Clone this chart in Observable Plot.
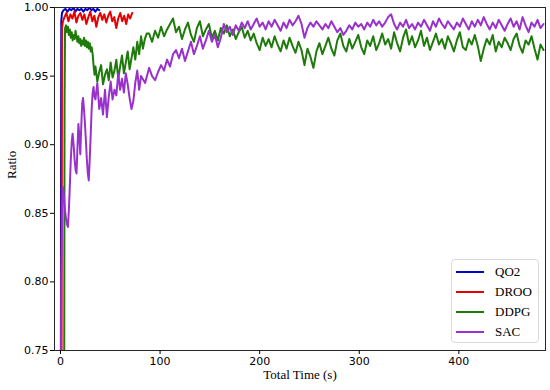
<!DOCTYPE html>
<html><head><meta charset="utf-8">
<script src="https://cdn.jsdelivr.net/npm/d3@7"></script>
<script src="https://cdn.jsdelivr.net/npm/@observablehq/plot@0.6"></script>
<style>
body{margin:0;background:#fff;}
#wrap{position:relative;width:550px;height:390px;}
#legend{position:absolute;left:451px;top:259px;width:88px;height:84px;border:1px solid #d9d9d9;border-radius:4px;background:rgba(255,255,255,0.85);box-sizing:border-box;font-family:"Liberation Serif",serif;font-size:13px;color:#000;}
.item{position:absolute;left:4px;height:16px;display:flex;align-items:center;}
.sw{width:28px;height:2px;margin-right:11px;}
</style></head><body><div id="wrap"></div>
<script>
const seriesNames = ["QO2", "DROO", "DDPG", "SAC"];
const seriesColors = ["#0000cd", "#e60000", "#1e7a0a", "#9932cc"];
const xTicks = [0, 100, 200, 300, 400];
const yTicks = [0.75, 0.80, 0.85, 0.90, 0.95, 1.00];

const qo2Time = [0.3, 0.8, 1.5, 3, 5, 7, 9, 11, 13, 15, 17, 19, 21, 23, 25, 27, 29, 31, 33, 35, 37, 39];
const qo2Ratio = [0.70, 0.990, 0.996, 0.998, 0.999, 0.997, 0.999, 0.998, 1.0, 0.997, 0.999, 0.998, 0.999, 0.997, 0.999, 0.998, 1.0, 0.998, 0.999, 0.997, 0.999, 0.998];

const drooTime = [1.0, 1.5, 2.5, 4, 6, 8, 10, 12, 14, 16, 18, 20, 22, 24, 26, 28, 30, 32, 34, 36, 38, 40, 42, 44, 46, 48, 50, 52, 54, 56, 58, 60, 62, 64, 66, 68, 70, 72];
const drooRatio = [0.70, 0.985, 0.990, 0.993, 0.996, 0.990, 0.995, 0.992, 0.997, 0.989, 0.994, 0.996, 0.991, 0.995, 0.988, 0.993, 0.997, 0.990, 0.994, 0.986, 0.993, 0.996, 0.991, 0.995, 0.989, 0.994, 0.997, 0.990, 0.993, 0.985, 0.992, 0.996, 0.990, 0.994, 0.988, 0.995, 0.992, 0.996];

const ddpgEarlyTime = [3.7, 4.1, 4.6, 5.6, 6.5, 7.5, 8.4, 9.4, 10.3, 11.3, 12.2, 13.2, 14.2, 15.1, 16.1, 17.0, 18.0, 18.9, 19.9, 20.8, 21.8, 22.7, 23.7, 24.6, 25.6, 26.5, 27.5, 28.4, 29.4, 30.4, 31.3, 32.3, 33.2, 34.2, 35.1, 37.0, 38.9, 40.8, 42.7, 44.7, 46.6, 48.5, 50.4, 52.3, 54.2, 56.1, 58.0, 59.9, 61.8, 63.7, 65.6, 67.5, 69.4, 71.3, 73.2, 75.1, 77.1, 79.0, 80.9, 82.8, 84.7, 86.6];
const ddpgEarlyRatio = [0.70, 0.93, 0.985, 0.987, 0.982, 0.986, 0.980, 0.984, 0.978, 0.982, 0.976, 0.980, 0.977, 0.983, 0.979, 0.975, 0.979, 0.974, 0.977, 0.972, 0.976, 0.973, 0.978, 0.972, 0.976, 0.971, 0.975, 0.970, 0.974, 0.968, 0.971, 0.966, 0.958, 0.951, 0.957, 0.946, 0.953, 0.958, 0.944, 0.951, 0.955, 0.947, 0.960, 0.949, 0.954, 0.962, 0.948, 0.957, 0.965, 0.952, 0.960, 0.968, 0.955, 0.963, 0.971, 0.962, 0.975, 0.966, 0.979, 0.970, 0.977, 0.981];

const lateTime = [89, 92, 95, 98, 101, 104, 107, 110, 113, 116, 119, 122, 125, 128, 131, 134, 137, 140, 143, 146, 149, 152, 155, 158, 161, 164, 167, 170, 173, 176, 179, 182, 185, 188, 191, 194, 197, 200, 203, 206, 209, 212, 215, 218, 221, 224, 227, 230, 233, 236, 239, 242, 245, 248, 251, 254, 257, 260, 263, 266, 269, 272, 275, 278, 281, 284, 287, 290, 293, 296, 299, 302, 305, 308, 311, 314, 317, 320, 323, 326, 329, 332, 335, 338, 341, 344, 347, 350, 353, 356, 359, 362, 365, 368, 371, 374, 377, 380, 383, 386, 389, 392, 395, 398, 401, 404, 407, 410, 413, 416, 419, 422, 425, 428, 431, 434, 437, 440, 443, 446, 449, 452, 455, 458, 461, 464, 467, 470, 473, 476, 479, 482, 485];

const ddpgLateRatio = [
  0.981, 0.975, 0.983, 0.978, 0.986, 0.979, 0.984, 0.988, 0.992, 0.982,
  0.986, 0.977, 0.984, 0.989, 0.980, 0.975, 0.985, 0.990, 0.979, 0.984,
  0.988, 0.978, 0.983, 0.976, 0.985, 0.981, 0.987, 0.979, 0.984, 0.977,
  0.982, 0.986, 0.978, 0.983, 0.976, 0.981, 0.974, 0.969, 0.978, 0.972,
  0.977, 0.971, 0.979, 0.973, 0.968, 0.976, 0.970, 0.978, 0.972, 0.967,
  0.975, 0.969, 0.958, 0.970, 0.964, 0.956, 0.968, 0.974, 0.966, 0.972,
  0.978, 0.970, 0.965, 0.976, 0.981, 0.972, 0.968, 0.977, 0.970, 0.975,
  0.980, 0.971, 0.966, 0.976, 0.972, 0.979, 0.969, 0.974, 0.981, 0.973,
  0.977, 0.970, 0.982, 0.974, 0.968, 0.978, 0.984, 0.973, 0.979, 0.971,
  0.976, 0.983, 0.972, 0.978, 0.969, 0.975, 0.981, 0.973, 0.977, 0.970,
  0.979, 0.974, 0.968, 0.976, 0.982, 0.971, 0.969, 0.977, 0.973, 0.980,
  0.972, 0.961, 0.970, 0.977, 0.973, 0.980, 0.968, 0.975, 0.971, 0.978,
  0.974, 0.969, 0.977, 0.981, 0.972, 0.967, 0.976, 0.973, 0.979, 0.970,
  0.962, 0.973, 0.969];

const sacEarlyTime = [0.3, 0.8, 1.8, 2.7, 3.7, 4.6, 5.6, 6.5, 7.5, 8.4, 9.4, 10.3, 11.3, 12.2, 13.2, 14.2, 15.1, 16.1, 17.0, 18.0, 18.9, 19.9, 20.8, 21.8, 22.7, 23.7, 24.6, 25.6, 26.5, 27.5, 28.4, 29.4, 30.4, 31.3, 32.3, 33.2, 34.2, 35.1, 37.0, 38.9, 40.8, 42.7, 44.7, 46.6, 48.5, 50.4, 52.3, 54.2, 56.1, 58.0, 59.9, 61.8, 63.7, 65.6, 67.5, 69.4, 71.3, 73.2, 75.1, 77.1, 79.0, 80.9, 85];
const sacEarlyRatio = [0.70, 0.80, 0.855, 0.869, 0.860, 0.852, 0.846, 0.842, 0.840, 0.852, 0.870, 0.888, 0.902, 0.908, 0.900, 0.889, 0.882, 0.879, 0.897, 0.915, 0.907, 0.893, 0.912, 0.930, 0.934, 0.925, 0.915, 0.902, 0.889, 0.879, 0.874, 0.890, 0.908, 0.926, 0.938, 0.942, 0.935, 0.933, 0.945, 0.926, 0.934, 0.922, 0.940, 0.920, 0.935, 0.946, 0.933, 0.940, 0.936, 0.952, 0.940, 0.948, 0.938, 0.952, 0.944, 0.934, 0.926, 0.932, 0.945, 0.954, 0.940, 0.950, 0.945];

const sacLateRatio = [
  0.956, 0.950, 0.947, 0.953, 0.958, 0.954, 0.962, 0.957, 0.966, 0.969,
  0.963, 0.970, 0.961, 0.968, 0.975, 0.966, 0.972, 0.979, 0.970, 0.976,
  0.983, 0.975, 0.980, 0.971, 0.978, 0.988, 0.982, 0.986, 0.980, 0.987,
  0.983, 0.989, 0.985, 0.990, 0.984, 0.988, 0.992, 0.986, 0.989, 0.984,
  0.990, 0.986, 0.991, 0.987, 0.983, 0.989, 0.985, 0.991, 0.987, 0.990,
  0.994, 0.988, 0.978, 0.985, 0.989, 0.986, 0.990, 0.987, 0.984, 0.988,
  0.985, 0.990, 0.986, 0.982, 0.985, 0.980, 0.983, 0.987, 0.984, 0.989,
  0.986, 0.988, 0.984, 0.989, 0.986, 0.991, 0.987, 0.990, 0.986, 0.989,
  0.993, 0.995, 0.988, 0.984, 0.989, 0.986, 0.991, 0.985, 0.988, 0.984,
  0.989, 0.986, 0.991, 0.987, 0.983, 0.990, 0.986, 0.992, 0.988, 0.985,
  0.990, 0.987, 0.984, 0.989, 0.986, 0.992, 0.988, 0.984, 0.990, 0.986,
  0.991, 0.987, 0.993, 0.988, 0.984, 0.989, 0.985, 0.991, 0.987, 0.983,
  0.988, 0.992, 0.986, 0.990, 0.984, 0.993, 0.987, 0.982, 0.989, 0.986,
  0.991, 0.985, 0.988];

const rows = [];
function addSeries(name, times, ratios) {
  times.forEach((t, i) => rows.push({series: name, t, ratio: ratios[i]}));
}
addSeries("QO2", qo2Time, qo2Ratio);
addSeries("DROO", drooTime, drooRatio);
addSeries("DDPG", ddpgEarlyTime.concat(lateTime), ddpgEarlyRatio.concat(ddpgLateRatio));
addSeries("SAC", sacEarlyTime.concat(lateTime), sacEarlyRatio.concat(sacLateRatio));

const chart = Plot.plot({
  width: 550, height: 390,
  marginLeft: 54, marginRight: 5, marginTop: 7, marginBottom: 40,
  style: {background: "#fff", fontFamily: "'DejaVu Sans', sans-serif", color: "#000"},
  x: {domain: [-6, 487]},
  y: {domain: [0.75, 1.0]},
  color: {domain: seriesNames, range: seriesColors},
  marks: [
    Plot.line(rows, {x: "t", y: "ratio", z: "series", stroke: "series", strokeWidth: 2, strokeLinejoin: "round", clip: true}),
    Plot.frame({stroke: "#262626", strokeWidth: 1}),
    Plot.axisX({ticks: xTicks, tickSize: 4, tickPadding: 3, fontSize: 11, label: null, tickFormat: d => String(d)}),
    Plot.axisY({ticks: yTicks, tickSize: 4, tickPadding: 2, fontSize: 11, label: null, tickFormat: d3.format(".2f")}),
    Plot.text(["Total Time (s)"], {frameAnchor: "bottom", dy: 28, text: d => d, fontFamily: "'Liberation Serif', serif", fontSize: 13, fill: "#000"}),
    Plot.text(["Ratio"], {frameAnchor: "left", dx: -43, rotate: -90, text: d => d, fontFamily: "'Liberation Serif', serif", fontSize: 13, fill: "#000"})
  ]
});
const wrap = document.getElementById("wrap");
wrap.appendChild(chart);

const legend = document.createElement("div");
legend.id = "legend";
seriesNames.forEach((name, i) => {
  const item = document.createElement("div");
  item.className = "item";
  item.style.top = (4 + i * 20) + "px";
  const sw = document.createElement("span");
  sw.className = "sw";
  sw.style.background = seriesColors[i];
  const label = document.createElement("span");
  label.textContent = name;
  item.appendChild(sw);
  item.appendChild(label);
  legend.appendChild(item);
});
wrap.appendChild(legend);
</script>
</body></html>
